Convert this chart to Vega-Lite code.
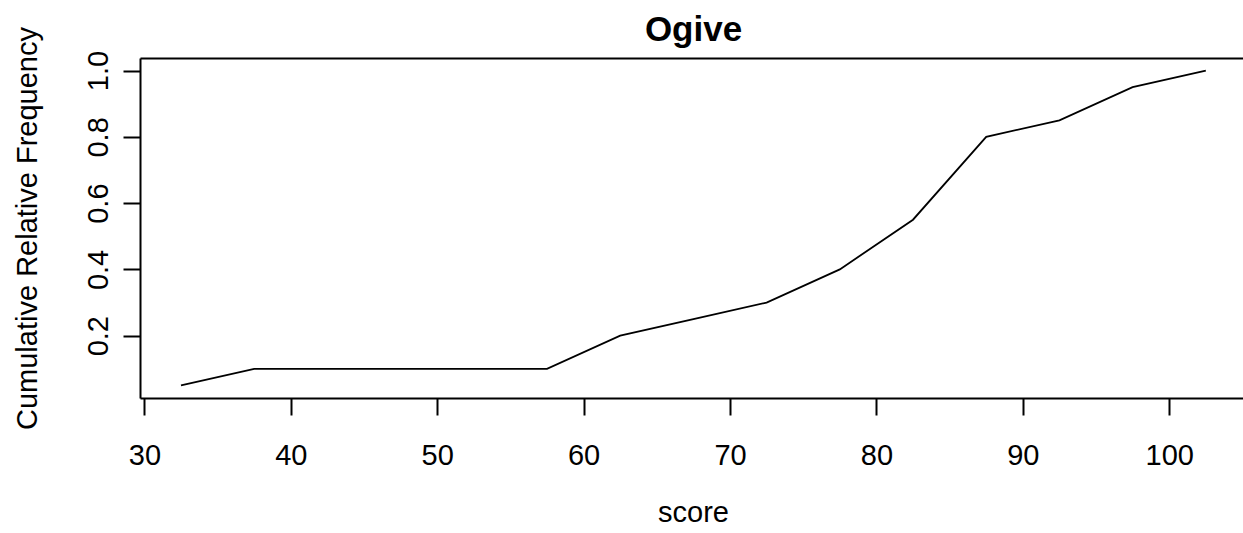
{
  "$schema": "https://vega.github.io/schema/vega-lite/v6.json",
  "autosize": {"type": "none"},
  "padding": {"left": 140, "top": 58, "right": 0, "bottom": 135},
  "width": 1103,
  "height": 340,
  "background": "white",
  "config": {
    "view": {"stroke": null},
    "font": "Liberation Sans",
    "axis": {"grid": false}
  },
  "title": {
    "text": "Ogive",
    "font": "Liberation Sans",
    "fontSize": 35,
    "fontWeight": "bold",
    "color": "black",
    "anchor": "middle",
    "frame": "group",
    "baseline": "alphabetic",
    "offset": 17,
    "dx": 2,
    "dy": 66
  },
  "data": {
    "values": [
      {"score": 32.5, "crf": 0.05},
      {"score": 37.5, "crf": 0.10},
      {"score": 42.5, "crf": 0.10},
      {"score": 47.5, "crf": 0.10},
      {"score": 52.5, "crf": 0.10},
      {"score": 57.5, "crf": 0.10},
      {"score": 62.5, "crf": 0.20},
      {"score": 67.5, "crf": 0.25},
      {"score": 72.5, "crf": 0.30},
      {"score": 77.5, "crf": 0.40},
      {"score": 82.5, "crf": 0.55},
      {"score": 87.5, "crf": 0.80},
      {"score": 92.5, "crf": 0.85},
      {"score": 97.5, "crf": 0.95},
      {"score": 102.5, "crf": 1.00}
    ]
  },
  "layer": [
    {
      "mark": {"type": "line", "color": "black", "strokeWidth": 1.8},
      "encoding": {
        "x": {
          "field": "score",
          "type": "quantitative",
          "scale": {"domain": [29.7, 105.04], "nice": false, "zero": false},
          "axis": {
            "orient": "bottom",
            "values": [30, 40, 50, 60, 70, 80, 90, 100],
            "format": "d",
            "domain": true,
            "domainColor": "black",
            "domainWidth": 2,
            "ticks": true,
            "tickColor": "black",
            "tickWidth": 2,
            "tickSize": 17,
            "labelFont": "Liberation Sans",
            "labelFontSize": 29,
            "labelColor": "black",
            "labelBaseline": "alphabetic",
            "labelAlign": "center",
            "labelPadding": 49,
            "labelFlush": false,
            "labelOverlap": false,
            "title": "score",
            "titleFont": "Liberation Sans",
            "titleFontSize": 29,
            "titleFontWeight": "normal",
            "titleColor": "black",
            "titleBaseline": "alphabetic",
            "titleAlign": "center",
            "titleX": 553,
            "titleY": 123
          }
        },
        "y": {
          "field": "crf",
          "type": "quantitative",
          "scale": {"domain": [0.012, 1.038], "nice": false, "zero": false},
          "axis": {
            "orient": "left",
            "values": [0.2, 0.4, 0.6, 0.8, 1.0],
            "format": ".1f",
            "domain": true,
            "domainColor": "black",
            "domainWidth": 2,
            "ticks": true,
            "tickColor": "black",
            "tickWidth": 2,
            "tickSize": 17,
            "labelFont": "Liberation Sans",
            "labelFontSize": 29,
            "labelColor": "black",
            "labelAngle": 270,
            "labelAlign": "center",
            "labelBaseline": "alphabetic",
            "labelPadding": 16,
            "labelFlush": false,
            "labelOverlap": false,
            "title": "Cumulative Relative Frequency",
            "titleFont": "Liberation Sans",
            "titleFontSize": 29,
            "titleFontWeight": "normal",
            "titleColor": "black",
            "titleAngle": 270,
            "titleAlign": "center",
            "titleBaseline": "alphabetic",
            "titleX": -104,
            "titleY": 170
          }
        }
      }
    },
    {
      "mark": {"type": "line", "opacity": 0},
      "encoding": {
        "x": {
          "field": "score",
          "type": "quantitative",
          "axis": {
            "orient": "top",
            "domain": true,
            "domainColor": "black",
            "domainWidth": 2,
            "ticks": false,
            "labels": false,
            "title": null,
            "grid": false
          }
        },
        "y": {"field": "crf", "type": "quantitative"}
      }
    }
  ]
}
